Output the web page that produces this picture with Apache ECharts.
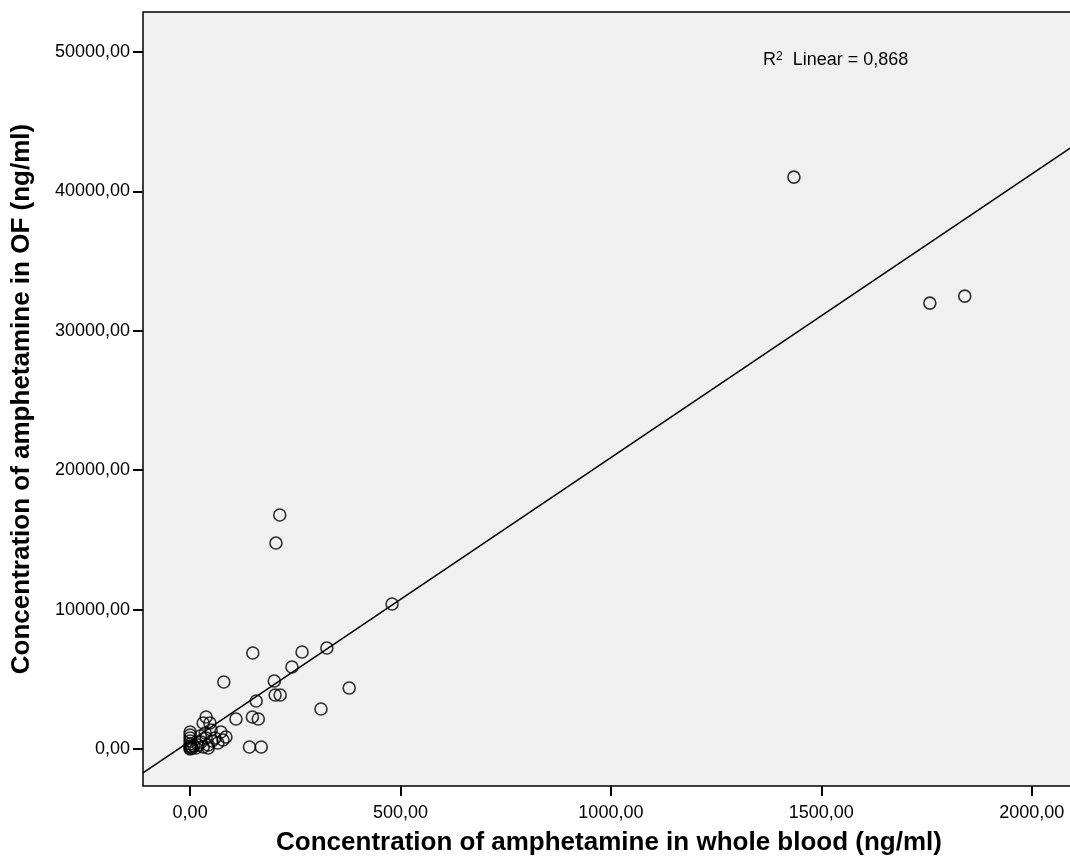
<!DOCTYPE html>
<html>
<head>
<meta charset="utf-8">
<script src="https://cdn.jsdelivr.net/npm/echarts@6/dist/echarts.min.js"></script>
<style>
  html, body { margin: 0; padding: 0; background: #ffffff; overflow: hidden; }
  #scatter { width: 1090px; height: 866px; }
</style>
</head>
<body>
<div id="scatter"></div>
<script>
// blood concentration (x) vs oral fluid concentration (y), ng/ml
var bloodValues = [
  1435, 1758, 1841, 213, 204, 480, 149, 325, 266, 242, 80, 200, 378, 202, 214,
  157, 311, 109, 148, 162, 141, 169,
  0, 0, 0, 0, 0, 0, 0, 0, 2, 5, 9, 14, 19, 26, 31, 38, 38, 31, 47, 50, 43,
  59, 66, 73, 85, 78, 52, 36, 24, 43
]
var ofValues = [
  41025, 31988, 32490, 16783, 14774, 10400, 6885, 7244, 6957, 5881, 4805, 4877, 4375, 3873, 3873,
  3443, 2869, 2152, 2295, 2152, 143, 143,
  1219, 1004, 789, 574, 359, 215, 72, 0, 143, 72, 215, 72, 287, 502, 143, 789, 2295, 1865, 1865, 1363, 287,
  789, 430, 1219, 861, 645, 574, 1148, 932, 72
]
var xTicks = [0, 500, 1000, 1500, 2000]
var yTicks = [0, 10000, 20000, 30000, 40000, 50000]
// fit line (R² Linear = 0,868)
var fitIntercept = 565
var fitSlope = 20.34
var rSquared = '0,868'

var xMin = -112
var xMax = 2103
var yMin = -2654
var yMax = 52870

var points = []
for (var i = 0; i < bloodValues.length; i++) {
  points.push([bloodValues[i], ofValues[i]])
}
var fitLine = [
  [xMin, fitIntercept + fitSlope * xMin],
  [xMax, fitIntercept + fitSlope * xMax]
]

function commaFmt(v) {
  return v.toFixed(2).replace('.', ',')
}

var myChart = echarts.init(document.getElementById('scatter'))
var option = {
  animation: false,
  textStyle: { fontFamily: 'Liberation Sans, Arial, sans-serif' },
  grid: {
    left: 143,
    top: 12,
    bottom: 80,
    width: 932,
    show: true,
    backgroundColor: '#f0f0f0',
    borderColor: '#000000',
    borderWidth: 1.5
  },
  xAxis: {
    type: 'value',
    min: xMin,
    max: xMax,
    name: 'Concentration of amphetamine in whole blood (ng/ml)',
    nameLocation: 'middle',
    nameGap: 44,
    nameTextStyle: { fontSize: 26, fontWeight: 'bold', color: '#000000' },
    axisLine: { show: false, onZero: false },
    axisTick: {
      show: true,
      customValues: xTicks,
      length: 10,
      lineStyle: { color: '#000000', width: 2 }
    },
    axisLabel: {
      customValues: xTicks,
      formatter: commaFmt,
      fontSize: 18,
      color: '#000000',
      margin: 18
    },
    splitLine: { show: false }
  },
  yAxis: {
    type: 'value',
    min: yMin,
    max: yMax,
    name: 'Concentration of amphetamine in OF (ng/ml)',
    nameLocation: 'middle',
    nameGap: 108,
    nameTextStyle: { fontSize: 26, fontWeight: 'bold', color: '#000000' },
    axisLine: { show: false, onZero: false },
    axisTick: {
      show: true,
      customValues: yTicks,
      length: 10,
      lineStyle: { color: '#000000', width: 2 }
    },
    axisLabel: {
      customValues: yTicks,
      formatter: commaFmt,
      fontSize: 18,
      color: '#000000',
      margin: 13
    },
    splitLine: { show: false }
  },
  graphic: [
    {
      type: 'text',
      left: 763,
      top: 51,
      style: {
        text: '{b|R}{s|2}{b|  Linear = ' + rSquared + '}',
        rich: {
          b: { fontSize: 18, fill: '#000000', fontFamily: 'Liberation Sans, Arial, sans-serif' },
          s: { fontSize: 12, fill: '#000000', verticalAlign: 'top', padding: [0, 0, 7, 0], fontFamily: 'Liberation Sans, Arial, sans-serif' }
        }
      }
    }
  ],
  series: [
    {
      type: 'line',
      data: fitLine,
      symbol: 'none',
      silent: true,
      lineStyle: { color: '#000000', width: 1.5 },
      z: 1
    },
    {
      type: 'scatter',
      data: points,
      symbol: 'circle',
      symbolSize: 12,
      itemStyle: {
        color: 'rgba(0,0,0,0)',
        borderColor: '#000000',
        borderWidth: 1.6
      },
      z: 2
    }
  ]
}
myChart.setOption(option)
</script>
</body>
</html>
